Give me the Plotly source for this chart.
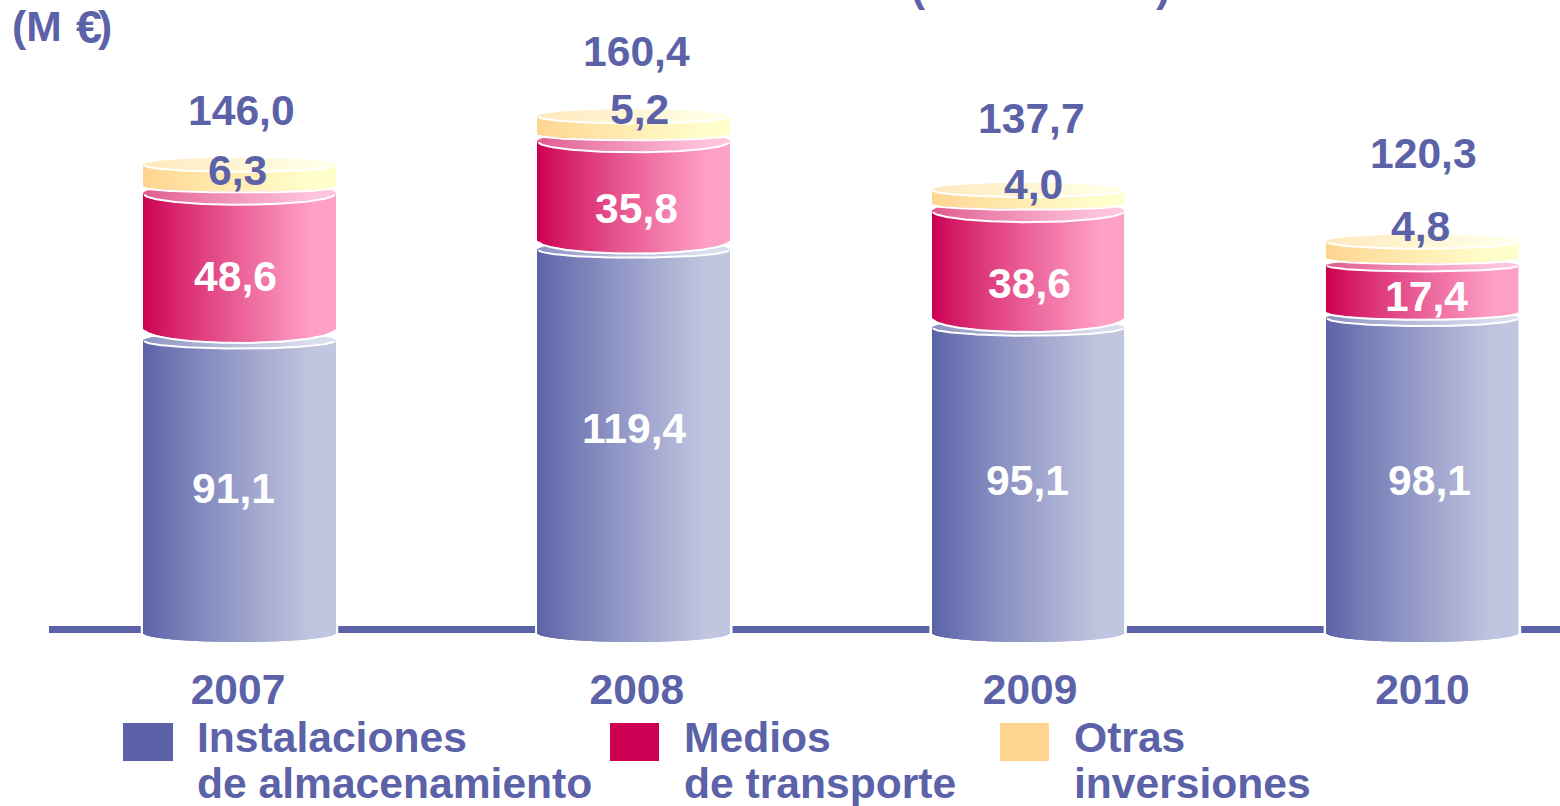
import numpy as np
import plotly.graph_objects as go

# ---------- data ----------
years = ["2007", "2008", "2009", "2010"]
instalaciones = [91.1, 119.4, 95.1, 98.1]
medios = [48.6, 35.8, 38.6, 17.4]
otras = [6.3, 5.2, 4.0, 4.8]
totales = [146.0, 160.4, 137.7, 120.3]
legend_lines = [["Instalaciones", "de almacenamiento"], ["Medios", "de transporte"], ["Otras", "inversiones"]]

# ---------- layout constants ----------
W, H = 1560, 806
PLOT_BOTTOM = 651
BASE_PX = 633
PX_PER_UNIT = 3.21
CENTER0 = 239.5
SPACING = 394.3
BAR_PX = 191.5
N = 192
TXT = "#5B62A8"
FONT = "Liberation Sans, Arial, sans-serif"
FS = 42.6


def yv(px):
    return (BASE_PX - px) / PX_PER_UNIT


def xv(px):
    return (px - CENTER0) / SPACING


def xp(px):
    return px / W


def yp(px):
    return (PLOT_BOTTOM - px) / PLOT_BOTTOM


def lerp(c0, c1, t):
    a, b = np.array(c0), np.array(c1)
    return [f"rgb({int(r)},{int(g)},{int(bl)})" for r, g, bl in (a[None, :] + (b - a)[None, :] * t[:, None])]


BLUE = ((91, 98, 168), (193, 198, 224), (141, 147, 194), (218, 221, 238))
RED = ((204, 0, 82), (255, 160, 198), (224, 90, 144), (255, 196, 220))
YEL = ((255, 212, 143), (255, 255, 204), (255, 232, 189), (255, 255, 229))

t = (np.arange(N) + 0.5) / N
shade = np.minimum(t / 0.88, 1.0) ** 0.88
u = 2 * t - 1
f = np.sqrt(np.clip(1 - u ** 2, 0, 1))
slice_w = BAR_PX / SPACING / N * 1.5
fig = go.Figure()

# white halo that breaks the axis band either side of each cylinder
fig.add_trace(go.Bar(x=list(range(4)), y=[yv(BASE_PX - 8)] * 4, base=[0] * 4, width=[(BAR_PX + 6) / SPACING] * 4,
                     marker=dict(color="white", line_width=0), hoverinfo="skip", showlegend=False))


def cylinder(i, y0, y1, sag_bot, sag_top, pal, name):
    xs = i + (u * BAR_PX / 2) / SPACING
    s_b, s_t = sag_bot / PX_PER_UNIT, sag_top / PX_PER_UNIT
    low = y0 - s_b * f
    high = y1 - s_t * f
    fig.add_trace(go.Bar(x=xs, base=low, y=high - low, width=slice_w, name=name,
                         marker=dict(color=lerp(pal[0], pal[1], shade), line_width=0), hoverinfo="skip",
                         showlegend=False))
    fig.add_trace(go.Bar(x=xs, base=high, y=2 * s_t * f, width=slice_w, name=name,
                         marker=dict(color=lerp(pal[2], pal[3], shade), line_width=0), hoverinfo="skip",
                         showlegend=False))
    return xs, low, high


overlays = []
anchors = {"b": [], "r": [], "o": []}
for i in range(4):
    blue_top = instalaciones[i]
    r = medios[i]
    o = otras[i]
    red_bot = blue_top + (0.2 * r + 3) / PX_PER_UNIT
    red_top = blue_top + 3.02 * r / PX_PER_UNIT
    yel_bot = red_top + 7.5 / PX_PER_UNIT
    yel_top = yel_bot + 3.4 * o / PX_PER_UNIT
    sag_bot = min(14, max(7, 0.36 * r))
    sag_top = min(11, max(6, 0.3 * r))
    overlays.append(cylinder(i, 0, blue_top, 9, 8, BLUE, "Instalaciones de almacenamiento"))
    overlays.append(cylinder(i, red_bot, red_top, sag_bot, sag_top, RED, "Medios de transporte"))
    overlays.append(cylinder(i, yel_bot, yel_top, 5, 7, YEL, "Otras inversiones"))
    anchors["b"].append(blue_top / 2)
    anchors["r"].append((red_bot + red_top) / 2)
    anchors["o"].append(yel_top)

# white rims following the front edge of every cylinder end
for j, (xs, low, high) in enumerate(overlays):
    edges = [high] if j % 3 == 0 else [high, low - 1.2 / PX_PER_UNIT]
    for e in edges:
        fig.add_trace(go.Scatter(x=xs, y=e, mode="lines", line=dict(color="white", width=2),
                                 hoverinfo="skip", showlegend=False))


def fmt(v):
    return f"{v:.1f}".replace(".", ",")


def label(i, y, val, dx, dy, color):
    fig.add_annotation(x=i, y=y, text=f"<b>{fmt(val)}</b>", showarrow=False, xshift=dx, yshift=-dy,
                       font=dict(family=FONT, size=FS, color=color), xanchor="center", yanchor="middle")


nudge_b = [(-6, 1), (1, -13), (-1, 0), (7, 4)]
nudge_r = [(-4, 15.5), (3, 17.5), (1, 19), (4, 7)]
nudge_o = [(-2, 5.5), (6, -7), (5, -6), (-2, -16)]
nudge_t = [(2, -54.5), (3, -65), (3, -72), (1, -88.6)]
for i in range(4):
    label(i, anchors["b"][i], instalaciones[i], *nudge_b[i], "white")
    label(i, anchors["r"][i], medios[i], *nudge_r[i], "white")
    label(i, anchors["o"][i], otras[i], *nudge_o[i], TXT)
    label(i, anchors["o"][i], totales[i], *nudge_t[i], TXT)


def text(px, py, s, anchor="left", size=FS):
    fig.add_annotation(xref="paper", yref="paper", x=xp(px), y=yp(py), text=f"<b>{s}</b>", showarrow=False,
                       xanchor=anchor, yanchor="middle", font=dict(family=FONT, size=size, color=TXT))


text(10, 26, "(M")
text(74, 26, "€", size=47)
text(96, 26, ")")
# clipped remains of the title at the top edge
text(909, -14, "(")
text(1154, -14, ")")

shapes = [dict(type="rect", xref="x", yref="y", x0=xv(49), x1=xv(1560), y0=0, y1=yv(BASE_PX - 7),
               fillcolor=TXT, line_width=0, layer="below")]
swatches = [(123, 173, "#5B62A8"), (610, 659, "#CC0052"), (1000, 1049, "#FFD48F")]
text_x = [195, 682, 1072]
for (x0, x1, c), tx, lines in zip(swatches, text_x, legend_lines):
    shapes.append(dict(type="rect", xref="paper", yref="paper", x0=xp(x0), x1=xp(x1), y0=yp(723), y1=yp(761),
                       fillcolor=c, line_width=0))
    text(tx, 737, lines[0])
    text(tx, 783, lines[1])

tick_nudge = [-1.5, 3, 2, 0]
fig.update_layout(
    width=W, height=H, margin=dict(l=0, r=0, t=0, b=H - PLOT_BOTTOM), autosize=False,
    paper_bgcolor="white", plot_bgcolor="white", barmode="overlay", shapes=shapes, showlegend=False,
    xaxis=dict(range=[xv(0), xv(W)], tickmode="array", tickvals=[i + n / SPACING for i, n in enumerate(tick_nudge)],
               ticktext=[f"<b>{y}</b>" for y in years], ticks="outside", ticklen=1, tickcolor="rgba(0,0,0,0)",
               showgrid=False, zeroline=False, showline=False,
               tickfont=dict(family=FONT, size=42.5, color=TXT)),
    yaxis=dict(range=[yv(PLOT_BOTTOM), yv(0)], visible=False, showgrid=False, zeroline=False),
)

fig.write_html("out.html", config={"displayModeBar": False},
               post_script="document.body.style.margin='0';document.body.style.overflow='hidden';")
